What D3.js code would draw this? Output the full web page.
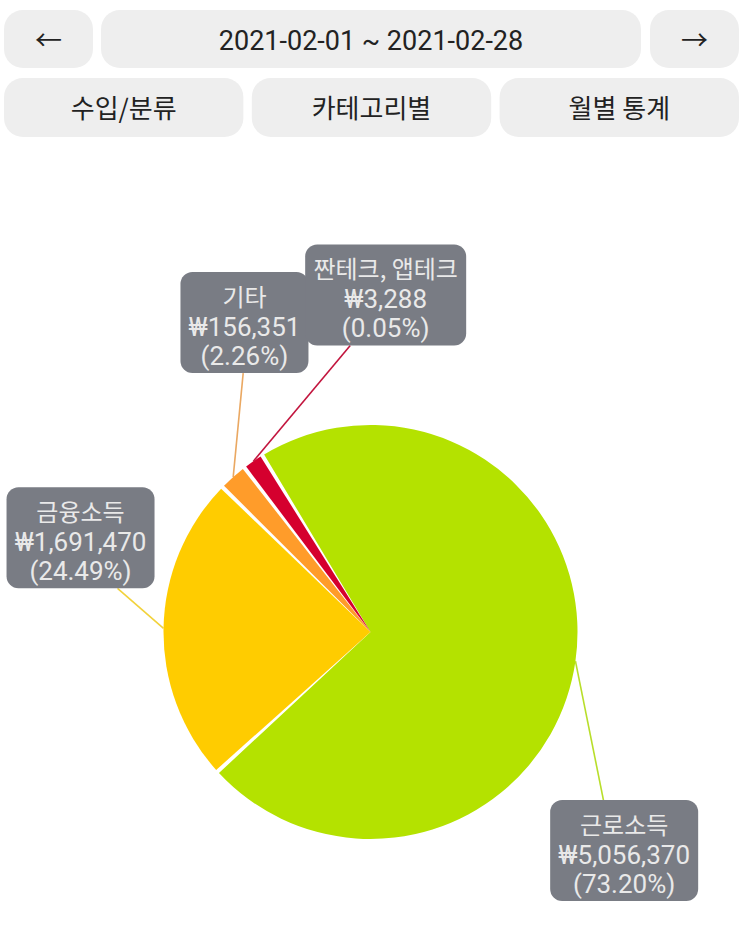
<!DOCTYPE html>
<html>
<head>
<meta charset="utf-8">
<script src="https://cdn.jsdelivr.net/npm/d3@7"></script>
<style>
  html, body { margin: 0; padding: 0; background: #ffffff; }
  svg { display: block; }
</style>
</head>
<body>
<svg id="chart" width="743" height="948"></svg>
<script>
// ---- data ----
const dateRange = "2021-02-01 ~ 2021-02-28";
const tabLabels = ["수입/분류", "카테고리별", "월별 통계"];
const categories = ["근로소득", "금융소득", "기타", "짠테크, 앱테크"];
const amounts = [5056370, 1691470, 156351, 3288];
const sliceColors = ["#b4e200", "#ffcc00", "#ff9c2a", "#d5002e"];
const lineColors = ["#b8de2a", "#f2d23a", "#eaa862", "#c2153e"];

// ---- layout ----
const W = 743, H = 948;
const svg = d3.select("#chart");
const cx = 370.5, cy = 632, R = 207;
const minAngleDeg = 6;
const startDeg = 328.5;
const fontLatin = "Roboto, 'Noto Sans', sans-serif";
const fontKor = "'Noto Sans CJK KR', 'Noto Sans', sans-serif";

// ---- top buttons ----
const btnFill = "#eeeeee", btnText = "#222222";
function button(x, y, w, h) {
  svg.append("rect").attr("x", x).attr("y", y).attr("width", w).attr("height", h)
    .attr("rx", 19).attr("ry", 19).attr("fill", btnFill);
}
button(4, 10, 89, 58);
button(101, 10, 540, 58);
button(650, 10, 89, 58);
svg.append("text").attr("x", 48.5).attr("y", 50).attr("text-anchor", "middle")
  .attr("font-family", fontKor).attr("font-size", 27).attr("fill", btnText).text("←");
svg.append("text").attr("x", 694.5).attr("y", 50).attr("text-anchor", "middle")
  .attr("font-family", fontKor).attr("font-size", 27).attr("fill", btnText).text("→");
svg.append("text").attr("x", 371).attr("y", 49.5).attr("text-anchor", "middle")
  .attr("font-family", fontLatin).attr("font-size", 27).attr("fill", btnText).text(dateRange);

const tabX = d3.scaleBand().domain(d3.range(tabLabels.length)).range([4, 739]).paddingInner(0.034);
tabLabels.forEach((t, i) => {
  button(tabX(i), 78, tabX.bandwidth(), 59);
  svg.append("text").attr("x", tabX(i) + tabX.bandwidth() / 2).attr("y", 118)
    .attr("text-anchor", "middle").attr("font-family", fontKor).attr("font-size", 26)
    .attr("fill", btnText).text(t);
});

// ---- pie with minimum slice angle ----
const total = d3.sum(amounts);
const toRad = Math.PI / 180;
const pie = d3.pie().sort(null).value(d => d)
  .startAngle(startDeg * toRad).endAngle(startDeg * toRad + 2 * Math.PI);
const raw = pie(amounts);
const minA = minAngleDeg * toRad;
let deficit = 0, surplus = 0;
raw.forEach(d => {
  const a = d.endAngle - d.startAngle;
  if (a < minA) deficit += minA - a; else surplus += a - minA;
});
let acc = startDeg * toRad;
const arcsData = raw.map((d, i) => {
  const a = d.endAngle - d.startAngle;
  const drawA = a < minA ? minA : a - (a - minA) / surplus * deficit;
  const s = acc; acc += drawA;
  return { index: i, value: d.value, startAngle: s, endAngle: acc, padAngle: 0 };
});

const arc = d3.arc().innerRadius(0).outerRadius(R).padAngle(0.02).padRadius(R);
const g = svg.append("g").attr("transform", `translate(${cx},${cy})`);
g.selectAll("path.slice").data(arcsData).enter().append("path")
  .attr("class", "slice").attr("d", arc).attr("fill", (d, i) => sliceColors[i]);

// ---- callouts ----
const pctFmt = v => (v / total * 100).toFixed(2) + "%";
const moneyFmt = v => "₩" + d3.format(",")(v);
// callout geometry: offset of line end from slice edge, side of box and attachment fraction
const callouts = [
  { dx: 28, dy: 139, side: "top", fx: 0.36 },
  { dx: -46, dy: -40, side: "bottom", fx: 0.75 },
  { dx: 10, dy: -104, side: "bottom", fx: 0.49 },
  { dx: 97, dy: -116, side: "bottom", fx: 0.28 }
];
const boxH = 101, padX = 8;
const lines = svg.append("g");
const boxes = svg.append("g");

[0, 1, 2, 3].forEach(i => {
  const d = arcsData[i];
  const mid = (d.startAngle + d.endAngle) / 2;
  const x0 = cx + R * Math.sin(mid), y0 = cy - R * Math.cos(mid);
  const c = callouts[i];
  const x1 = x0 + c.dx, y1 = y0 + c.dy;
  lines.append("line").attr("x1", x0).attr("y1", y0).attr("x2", x1).attr("y2", y1)
    .attr("stroke", lineColors[i]).attr("stroke-width", 1.6);

  const bg = boxes.append("g");
  const rect = bg.append("rect").attr("fill", "#797c84").attr("rx", 12).attr("ry", 12);
  const texts = [
    { t: categories[i], f: fontKor, s: 24, w: 400, y: 33.5 },
    { t: moneyFmt(amounts[i]), f: fontLatin, s: 26, w: 400, y: 64 },
    { t: "(" + pctFmt(amounts[i]) + ")", f: fontLatin, s: 26, w: 400, y: 92.5 }
  ];
  const tNodes = texts.map(o => bg.append("text").attr("font-family", o.f).attr("font-size", o.s)
    .attr("font-weight", o.w).attr("fill", "#e9e9e9").attr("text-anchor", "middle").text(o.t));
  const wMax = d3.max(tNodes, n => n.node().getComputedTextLength());
  const bw = Math.round(wMax + 2 * padX);
  const bx = x1 - c.fx * bw;
  const by = c.side === "top" ? y1 : y1 - boxH;
  rect.attr("x", bx).attr("y", by).attr("width", bw).attr("height", boxH);
  tNodes.forEach((n, k) => n.attr("x", bx + bw / 2).attr("y", by + texts[k].y));
});
</script>
</body>
</html>
